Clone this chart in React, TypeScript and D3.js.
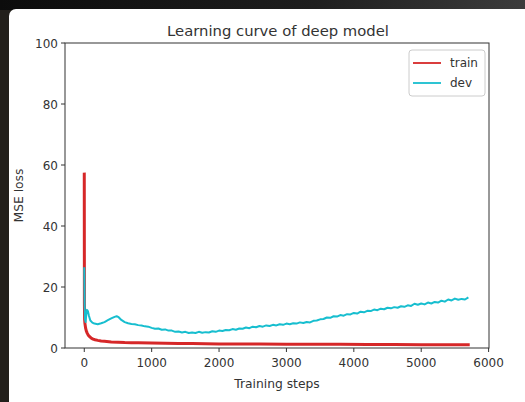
import React from "react";
import * as d3 from "d3";

const trainSteps = [0, 2, 5, 10, 20, 30, 45, 60, 80, 100, 130, 160, 200, 250, 300, 400, 500, 600, 700, 800, 1000, 1200, 1400, 1600, 1800, 2000, 2300, 2600, 3000, 3400, 3800, 4200, 4600, 5000, 5400, 5720];
const trainLoss = [57.5, 14.5, 9.5, 8.0, 6.5, 5.6, 4.8, 4.2, 3.7, 3.3, 2.9, 2.7, 2.5, 2.3, 2.2, 2.0, 1.9, 1.8, 1.75, 1.7, 1.6, 1.55, 1.5, 1.45, 1.4, 1.35, 1.3, 1.3, 1.25, 1.2, 1.2, 1.15, 1.15, 1.1, 1.1, 1.1];

const devSteps = [
  0, 5, 10, 20, 30, 40, 55, 70, 90, 120, 150, 200, 250, 300, 350, 400, 450, 480, 510, 550, 600, 650, 700, 750, 800, 850, 900, 950,
  1000, 1050, 1100, 1150, 1200, 1250, 1300, 1350, 1400, 1450, 1500, 1550, 1600, 1650, 1700, 1750, 1800, 1850, 1900, 1950,
  2000, 2050, 2100, 2150, 2200, 2250, 2300, 2350, 2400, 2450, 2500, 2550, 2600, 2650, 2700, 2750, 2800, 2850, 2900, 2950,
  3000, 3050, 3100, 3150, 3200, 3250, 3300, 3350, 3400, 3450, 3500, 3550, 3600, 3650, 3700, 3750, 3800, 3850, 3900, 3950,
  4000, 4050, 4100, 4150, 4200, 4250, 4300, 4350, 4400, 4450, 4500, 4550, 4600, 4650, 4700, 4750, 4800, 4850, 4900, 4950,
  5000, 5050, 5100, 5150, 5200, 5250, 5300, 5350, 5400, 5450, 5500, 5550, 5600, 5650, 5700
];
const devLoss = [
  26.5, 14, 9.5, 8.5, 11, 12.5, 12, 10.5, 9, 8.3, 8.0, 7.8, 8.1, 8.5, 9.1, 9.7, 10.2, 10.4, 10.1, 9.2, 8.5, 8.1, 7.9, 7.8, 7.5, 7.4, 7.1, 7.0,
  6.6, 6.3, 6.4, 6.0, 6.1, 5.7, 5.7, 5.3, 5.4, 5.1, 5.3, 4.9, 5.1, 4.9, 5.3, 5.0, 5.2, 5.1, 5.5, 5.3,
  5.7, 5.6, 5.9, 5.8, 6.2, 6.0, 6.4, 6.3, 6.7, 6.5, 7.0, 6.8, 7.2, 7.0, 7.4, 7.2, 7.6, 7.4, 7.8, 7.6,
  8.0, 7.8, 8.1, 8.0, 8.4, 8.2, 8.5, 8.4, 8.9, 9.0, 9.4, 9.5, 10.0, 9.9, 10.4, 10.3, 10.8, 10.6, 11.1, 11.0,
  11.5, 11.3, 11.9, 11.7, 12.2, 12.1, 12.6, 12.4, 12.9, 12.7, 13.2, 13.0, 13.4, 13.2, 13.7, 13.5, 14.0, 13.8, 14.5, 14.2,
  14.6, 14.3, 14.9, 14.6, 15.1, 14.9, 15.5, 15.2, 15.9, 15.6, 16.2, 15.8, 16.1, 15.9, 16.6
];

const xTicks = [0, 1000, 2000, 3000, 4000, 5000, 6000];
const yTicks = [0, 20, 40, 60, 80, 100];

const TRAIN_COLOR = "#d62728";
const DEV_COLOR = "#17becf";
const FONT = "DejaVu Sans, sans-serif";
const TEXT = "#333";

export default function App() {
  const W = 525, H = 402;
  const left = 65, right = 489, top = 43, bottom = 348;
  const x = d3.scaleLinear().domain([-286, 6006]).range([left, right]);
  const y = d3.scaleLinear().domain([0, 100]).range([bottom, top]);

  const line = d3.line<[number, number]>().x(d => x(d[0])).y(d => y(d[1]));
  const trainPts = trainSteps.map((s, i) => [s, trainLoss[i]] as [number, number]);
  const devPts = devSteps.map((s, i) => [s, devLoss[i]] as [number, number]);

  return (
    <svg width={W} height={H} style={{ position: "absolute", left: 0, top: 0 }} fontFamily={FONT}>
      <defs>
        <linearGradient id="topband" x1="0" x2="1" y1="0" y2="0">
          <stop offset="0" stopColor="#0c0c0c" />
          <stop offset="0.6" stopColor="#1e1e1e" />
          <stop offset="1" stopColor="#3c3c3c" />
        </linearGradient>
        <clipPath id="plot">
          <rect x={left} y={top} width={right - left} height={bottom - top} />
        </clipPath>
      </defs>
      <rect x={0} y={0} width={W} height={H} fill="#221f1b" />
      <rect x={0} y={0} width={W} height={10} fill="url(#topband)" />
      <rect x={9} y={9} width={W} height={H} rx={7} fill="#ffffff" />

      <text x={(left + right) / 2 + 1} y={36} textAnchor="middle" fontSize={14.8} fill={TEXT}>Learning curve of deep model</text>

      <g clipPath="url(#plot)">
        <path d={line(trainPts) || ""} fill="none" stroke={TRAIN_COLOR} strokeWidth={3} strokeLinejoin="round" />
        <path d={line(devPts) || ""} fill="none" stroke={DEV_COLOR} strokeWidth={2} strokeLinejoin="round" />
      </g>

      <rect x={left} y={top} width={right - left} height={bottom - top} fill="none" stroke="#333" strokeWidth={1} />

      {xTicks.map(t => (
        <g key={"x" + t}>
          <line x1={x(t)} x2={x(t)} y1={bottom} y2={bottom + 4} stroke="#333" />
          <text x={x(t)} y={bottom + 19} textAnchor="middle" fontSize={12} fill={TEXT}>{t}</text>
        </g>
      ))}
      {yTicks.map(t => (
        <g key={"y" + t}>
          <line x1={left - 4} x2={left} y1={y(t)} y2={y(t)} stroke="#333" />
          <text x={left - 7} y={y(t) + 4.5} textAnchor="end" fontSize={12} fill={TEXT}>{t}</text>
        </g>
      ))}

      <text x={(left + right) / 2} y={388} textAnchor="middle" fontSize={12.3} fill={TEXT}>Training steps</text>
      <text transform={`translate(23,${(top + bottom) / 2}) rotate(-90)`} textAnchor="middle" fontSize={12.3} fill={TEXT}>MSE loss</text>

      <g>
        <rect x={409} y={50} width={76} height={46} rx={3} fill="#fff" fillOpacity={0.8} stroke="#ccc" strokeWidth={1} />
        <line x1={413} x2={441} y1={63} y2={63} stroke={TRAIN_COLOR} strokeWidth={1.8} />
        <text x={450} y={67} fontSize={12} fill={TEXT}>train</text>
        <line x1={413} x2={441} y1={83} y2={83} stroke={DEV_COLOR} strokeWidth={1.8} />
        <text x={450} y={87} fontSize={12} fill={TEXT}>dev</text>
      </g>
    </svg>
  );
}
